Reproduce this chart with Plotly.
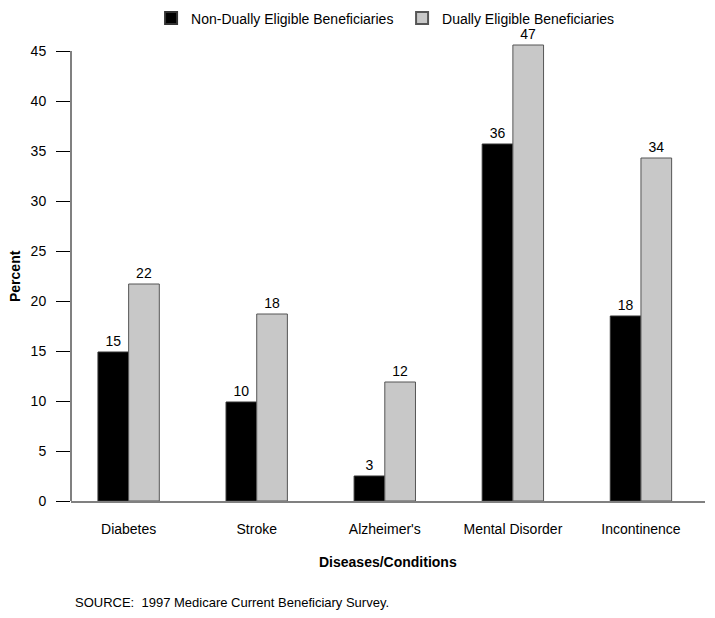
import plotly.graph_objects as go

categories = ["Diabetes", "Stroke", "Alzheimer's", "Mental Disorder", "Incontinence"]
non_dual = [14.9, 9.9, 2.5, 35.7, 18.5]
dual = [21.7, 18.7, 11.9, 45.6, 34.3]
non_dual_labels = ["15", "10", "3", "36", "18"]
dual_labels = ["22", "18", "12", "47", "34"]
y_ticks = [0, 5, 10, 15, 20, 25, 30, 35, 40, 45]

FONT = "Liberation Sans, Arial, sans-serif"

fig = go.Figure()
fig.add_trace(go.Bar(
    name="Non-Dually Eligible Beneficiaries", x=categories, y=non_dual,
    text=non_dual_labels, textposition="outside", cliponaxis=False,
    marker=dict(color="#000000", line=dict(color="#333333", width=1)),
    textfont=dict(family=FONT, size=14, color="#000"),
))
fig.add_trace(go.Bar(
    name="Dually Eligible Beneficiaries", x=categories, y=dual,
    text=dual_labels, textposition="outside", cliponaxis=False,
    marker=dict(color="#c8c8c8", line=dict(color="#555555", width=1)),
    textfont=dict(family=FONT, size=14, color="#000"),
))

fig.update_layout(
    width=715, height=618,
    margin=dict(l=63, r=18, t=23, b=125, autoexpand=False),
    plot_bgcolor="white", paper_bgcolor="white",
    font=dict(family=FONT, size=14, color="#000"),
    barmode="group", bargap=0.521, bargroupgap=0,
    showlegend=True,
    legend=dict(orientation="h", x=0.1263, xanchor="left",
                yref="container", y=0.983, yanchor="middle",
                bgcolor="rgba(0,0,0,0)",
                font=dict(size=14), entrywidth=206, entrywidthmode="pixels",
                itemsizing="constant"),
    xaxis=dict(range=[-0.45, 4.5], showline=True, linecolor="#808080", linewidth=2,
               ticks="", tickfont=dict(size=14), showgrid=False, zeroline=False,
               ticklabelstandoff=14),
    yaxis=dict(range=[0, 47], tickvals=y_ticks, ticks="outside", ticklen=14,
               tickcolor="#000", tickwidth=1, showgrid=False, zeroline=False,
               showline=False, tickfont=dict(size=14), ticklabelstandoff=7),
    shapes=[dict(type="line", xref="paper", yref="y", x0=0, x1=0, y0=0, y1=45,
                 line=dict(color="#808080", width=2))],
    annotations=[
        dict(text="<b>Percent</b>", xref="paper", yref="y", x=-0.0883, y=22.5,
             xanchor="center", yanchor="middle",
             textangle=-90, showarrow=False, font=dict(size=14)),
        dict(text="<b>Diseases/Conditions</b>", xref="paper", yref="paper",
             x=0.5, y=-0.1298, xanchor="center", yanchor="middle", showarrow=False,
             font=dict(size=14)),
        dict(text="SOURCE:  1997 Medicare Current Beneficiary Survey.", xref="paper",
             yref="paper", x=0.003, y=-0.217, xanchor="left", yanchor="middle",
             showarrow=False, font=dict(size=13)),
    ],
)

fig.write_html("out.html")
